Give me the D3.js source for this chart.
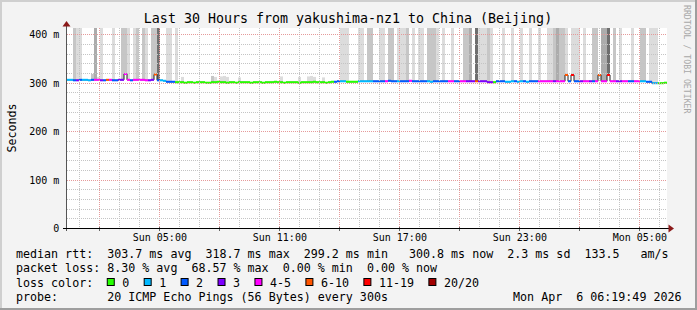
<!DOCTYPE html>
<html>
<head>
<meta charset="utf-8">
<script src="https://cdn.jsdelivr.net/npm/d3@7"></script>
<style>
body { margin: 0; background: #f3f3f3; }
svg text { font-family: "DejaVu Sans Mono", monospace; white-space: pre; }
</style>
</head>
<body>
<svg id="chart" width="697" height="310"></svg>
<script>
// time window: last 30 hours, one value every 9 minutes
var startTime = new Date(2026, 3, 5, 0, 23);
var endTime = new Date(2026, 3, 6, 6, 23);
var stepMinutes = 9;

// median rtt per step (ms)
var medianMs = [
  306,306,305,305,306,306,306,305,306,306,306,305,305,306,306,305,305,306,306,318,
  306,305,306,306,306,306,305,305,306,317,305,305,304,302,302,302,301,301,301,300,
  301,301,300,301,301,301,300,300,301,301,302,301,301,300,301,301,300,301,301,301,
  301,300,301,301,301,300,301,301,301,302,301,301,300,301,301,301,301,300,301,301,
  301,301,302,301,301,301,300,301,302,302,303,303,303,302,302,302,302,303,303,303,
  303,303,303,303,303,303,303,304,303,303,303,303,303,303,304,303,303,303,303,303,
  303,302,303,303,303,303,303,303,303,303,303,303,303,303,303,303,303,303,303,303,
  301,301,301,303,303,303,302,302,303,303,302,303,303,302,303,303,303,303,303,303,
  303,303,303,303,303,303,316,303,316,303,303,303,303,303,303,303,303,316,303,303,
  316,303,303,303,303,303,303,303,303,303,303,303,303,302,302,299,299,299,299,300
];

// lost pings (of 20) per step
var lossCount = [
  1,1,2,3,2,1,1,1,2,4,4,3,2,8,4,2,2,3,3,4,
  4,2,4,4,4,4,4,3,3,8,2,1,1,2,2,2,0,0,0,0,
  0,0,0,0,0,0,0,0,0,0,0,0,0,0,0,0,0,0,0,0,
  0,0,0,0,0,0,0,0,0,0,0,0,0,0,0,0,0,0,0,0,
  0,0,0,0,0,0,0,0,0,2,2,1,1,0,0,0,0,1,1,1,
  1,1,2,2,2,2,4,2,2,2,1,2,2,2,4,2,2,2,2,2,
  1,1,2,2,2,2,2,4,4,2,2,4,4,3,3,3,8,3,3,3,
  3,3,0,2,2,2,1,1,1,2,1,1,2,1,2,2,2,4,4,4,
  4,4,3,4,4,4,8,2,12,2,2,3,4,4,3,2,4,8,4,4,
  12,4,4,3,3,4,4,2,2,4,4,1,1,2,2,1,1,0,0,0
];

// smoke (ping spread above the median): step, highest ping (ms), density level
var smokeStep = [2,3,4,8,9,10,11,15,18,19,20,22,23,25,26,28,29,30,33,34,36,38,48,49,51,52,53,57,71,77,80,81,82,85,
  91,92,93,97,98,100,101,104,105,107,108,110,111,112,113,115,117,118,120,121,122,123,125,128,132,133,134,136,137,138,139,140,141,
  145,148,151,154,157,160,161,162,163,164,165,166,168,169,170,172,175,176,178,179,180,182,184,188,191,192,194,195,196];
var smokeTopMs = [999,999,999,318,999,312,999,999,999,999,999,999,999,999,999,999,999,999,999,999,999,312,314,312,313,314,312,311,313,312,313,314,312,311,
  999,999,999,999,999,999,999,999,999,999,999,999,999,999,999,999,999,999,999,999,999,999,999,999,999,999,999,999,999,999,999,999,999,
  999,999,999,999,999,999,999,999,999,999,999,999,999,999,999,999,999,999,999,999,999,999,999,999,999,999,999,999,999];
var smokeLevel = [2,1,1,2,3,1,1,1,2,2,1,1,2,2,1,2,2,4,1,1,1,1,2,1,1,1,1,1,1,1,1,1,1,1,
  1,1,1,1,1,2,2,1,1,2,2,1,1,1,2,1,1,1,2,2,2,1,1,1,2,2,3,4,1,1,1,2,1,
  1,1,1,1,1,1,1,2,3,2,2,1,1,1,1,1,2,2,3,3,4,2,1,1,2,2,1,1,1];
var smokeGrays = ['#ffffff', '#dcdcdc', '#c6c6c6', '#acacac', '#6e6e6e'];

// loss colour legend
var lossLabels = ['0', '1', '2', '3', '4-5', '6-10', '11-19', '20/20'];
var lossUpper = [0, 1, 2, 3, 5, 10, 19, 20];
var lossColors = ['#26ff00', '#00b8ff', '#0059ff', '#7e00ff', '#ff00ff', '#ff5500', '#ff0000', '#a10000'];

var yLabelTicks = [0, 100, 200, 300, 400];
var titleText = 'Last 30 Hours from yakushima-nz1 to China (Beijing)';
var statRows = [
  'median rtt:  303.7 ms avg  318.7 ms max  299.2 ms min   300.8 ms now  2.3 ms sd  133.5   am/s',
  'packet loss: 8.30 % avg  68.57 % max  0.00 % min  0.00 % now'
];
var probeText = 'probe:       20 ICMP Echo Pings (56 Bytes) every 300s';
var stampText = 'Mon Apr  6 06:19:49 2026';

function lossColor(n) {
  for (var k = 0; k < lossUpper.length; k++) if (n <= lossUpper[k]) return lossColors[k];
  return lossColors[lossColors.length - 1];
}

function draw() {
  var svg = d3.select('#chart');
  var W = +svg.attr('width'), H = +svg.attr('height');
  var left = 67, right = 667, top = 28, bottom = 228;
  var cw = 7.02;

  svg.append('rect').attr('width', W).attr('height', H).attr('fill', '#f3f3f3');
  svg.append('rect').attr('width', W).attr('height', 2).attr('fill', '#cfcfcf');
  svg.append('rect').attr('width', 2).attr('height', H).attr('fill', '#cfcfcf');
  svg.append('rect').attr('x', W - 2).attr('width', 2).attr('height', H).attr('fill', '#9e9e9e');
  svg.append('rect').attr('y', H - 2).attr('width', W).attr('height', 2).attr('fill', '#9e9e9e');

  var x = d3.scaleTime().domain([startTime, endTime]).range([left, right]);
  var y = d3.scaleLinear().domain([0, 413]).range([bottom, top]);
  var t = function(i) { return d3.timeMinute.offset(startTime, i * stepMinutes); };

  svg.append('clipPath').attr('id', 'plotclip').append('rect')
    .attr('x', left).attr('y', top).attr('width', right - left).attr('height', bottom - top);
  svg.append('rect').attr('x', left).attr('y', top).attr('width', right - left).attr('height', bottom - top)
    .attr('fill', '#ffffff');

  var canvas = svg.append('g').attr('clip-path', 'url(#plotclip)');

  // smoke
  canvas.selectAll('rect.smoke').data(smokeStep).enter().append('rect')
    .attr('class', 'smoke')
    .attr('x', function(s) { return x(t(s)); })
    .attr('width', function(s) { return x(t(s + 1)) - x(t(s)); })
    .attr('y', function(s, k) { return y(Math.min(smokeTopMs[k], 413)); })
    .attr('height', function(s, k) { return y(medianMs[s]) - y(Math.min(smokeTopMs[k], 413)); })
    .attr('fill', function(s, k) { return smokeGrays[smokeLevel[k]]; });

  // grid
  var hours = d3.timeHour.range(d3.timeHour.ceil(startTime), endTime);
  var grid = svg.append('g');
  grid.selectAll('line.vx').data(hours).enter().append('line')
    .attr('x1', function(d) { return Math.round(x(d)) + 0.5; })
    .attr('x2', function(d) { return Math.round(x(d)) + 0.5; })
    .attr('y1', top).attr('y2', bottom)
    .attr('stroke', function(d) { return d.getHours() % 3 === 2 ? '#e59a9a' : '#c4c4c4'; })
    .attr('stroke-dasharray', '1,1');
  grid.selectAll('line.hy').data(d3.range(20, 413, 20)).enter().append('line')
    .attr('x1', left).attr('x2', right)
    .attr('y1', function(v) { return Math.round(y(v)) + 0.5; })
    .attr('y2', function(v) { return Math.round(y(v)) + 0.5; })
    .attr('stroke', function(v) { return v % 100 === 0 ? '#e59a9a' : '#c4c4c4'; })
    .attr('stroke-dasharray', '1,1');

  // median: thin dark step line with loss-coloured segments on top
  var stepPts = [];
  medianMs.forEach(function(m, i) { stepPts.push([x(t(i)), y(m)]); stepPts.push([x(t(i + 1)), y(m)]); });
  canvas.append('path').attr('d', d3.line()(stepPts))
    .attr('fill', 'none').attr('stroke', '#202020').attr('stroke-width', 1);
  canvas.selectAll('rect.med').data(medianMs).enter().append('rect')
    .attr('class', 'med')
    .attr('x', function(m, i) { return x(t(i)); })
    .attr('width', function(m, i) { return x(t(i + 1)) - x(t(i)); })
    .attr('y', function(m) { return y(m) - 1; })
    .attr('height', 2)
    .attr('fill', function(m, i) { return lossColor(lossCount[i]); });

  // axes
  var ax = d3.axisBottom(x)
    .tickValues(hours.filter(function(d) { return d.getHours() % 6 === 5; }))
    .tickFormat(d3.timeFormat('%a %H:%M'))
    .tickSize(0).tickPadding(5.5);
  var gx = svg.append('g').attr('transform', 'translate(0,' + bottom + ')').call(ax);
  gx.select('.domain').remove();
  gx.selectAll('text').attr('font-size', 10).attr('font-family', 'DejaVu Sans Mono').attr('fill', '#000');

  var ay = d3.axisLeft(y).tickValues(yLabelTicks)
    .tickFormat(function(v) { return v === 0 ? '0' : v + ' m'; })
    .tickSize(0).tickPadding(7.7);
  var gy = svg.append('g').attr('transform', 'translate(' + left + ',0)').call(ay);
  gy.select('.domain').remove();
  gy.selectAll('text').attr('font-size', 10).attr('font-family', 'DejaVu Sans Mono').attr('fill', '#000').attr('dy', '0.37em');

  svg.selectAll('line.xtick').data(hours.filter(function(d) { return d.getHours() % 3 === 2; })).enter().append('line')
    .attr('x1', function(d) { return Math.round(x(d)) + 0.5; })
    .attr('x2', function(d) { return Math.round(x(d)) + 0.5; })
    .attr('y1', bottom - 1).attr('y2', bottom + 3).attr('stroke', '#666');

  svg.append('line').attr('x1', left - 0.5).attr('x2', left - 0.5).attr('y1', bottom + 3).attr('y2', 25)
    .attr('stroke', '#555');
  svg.append('line').attr('x1', 63).attr('x2', 670).attr('y1', bottom + 0.5).attr('y2', bottom + 0.5)
    .attr('stroke', '#000');
  svg.append('path').attr('d', 'M63.5,21 L67.5,26.5 L59.5,26.5 Z').attr('transform', 'translate(3,0)')
    .attr('fill', '#8b1a1a');
  svg.append('path').attr('d', 'M674,228.5 L668.5,224.5 L668.5,232.5 Z').attr('fill', '#8b1a1a');

  // titles
  svg.append('text').attr('x', 348).attr('y', 23).attr('text-anchor', 'middle')
    .attr('font-size', 13.3).text(titleText);
  svg.append('text').attr('transform', 'translate(15.5,128) rotate(-90)').attr('text-anchor', 'middle')
    .attr('font-size', 11.66).text('Seconds');
  svg.append('text').attr('transform', 'translate(684,5) rotate(90)')
    .attr('font-size', 8.2).attr('fill', '#a8a8a8').text('RRDTOOL / TOBI OETIKER');

  // legend
  var rowY = [258, 272.3, 286.6, 300.9];
  statRows.forEach(function(s, r) {
    svg.append('text').attr('x', 16).attr('y', rowY[r]).attr('font-size', 11.66).text(s);
  });
  svg.append('text').attr('x', 16).attr('y', rowY[2]).attr('font-size', 11.66).text('loss color:');
  var cx = 16 + 13 * cw - 0.5;
  lossLabels.forEach(function(lab, k) {
    svg.append('rect').attr('x', cx + 0.5).attr('y', rowY[2] - 8.1).attr('width', 7).attr('height', 7)
      .attr('fill', lossColors[k]).attr('stroke', '#000').attr('stroke-width', 1);
    svg.append('text').attr('x', cx + 15.5).attr('y', rowY[2]).attr('font-size', 11.66).text(lab);
    cx += 15.5 + lab.length * cw + 14.4;
  });
  svg.append('text').attr('x', 16).attr('y', rowY[3]).attr('font-size', 11.66).text(probeText);
  svg.append('text').attr('x', 681.5).attr('y', rowY[3]).attr('text-anchor', 'end')
    .attr('font-size', 11.66).text(stampText);
}

draw();
</script>
</body>
</html>
